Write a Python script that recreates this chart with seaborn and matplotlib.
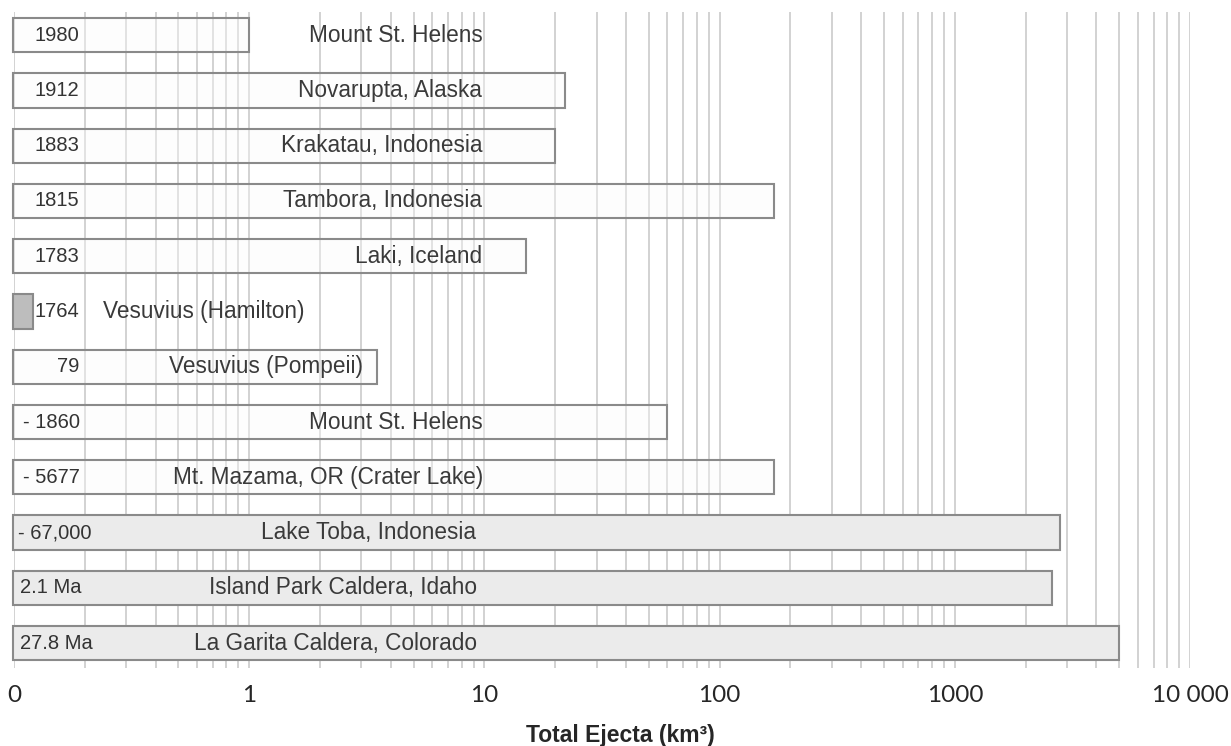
import matplotlib
matplotlib.use("Agg")
import matplotlib.pyplot as plt
import seaborn as sns
import pandas as pd
from matplotlib.ticker import LogLocator, NullFormatter

# Data
years = ["1980", "1912", "1883", "1815", "1783", "1764", "79",
         "- 1860", "- 5677", "- 67,000", "2.1 Ma", "27.8 Ma"]
volcanoes = ["Mount St. Helens", "Novarupta, Alaska", "Krakatau, Indonesia",
             "Tambora, Indonesia", "Laki, Iceland", "Vesuvius (Hamilton)",
             "Vesuvius (Pompeii)", "Mount St. Helens", "Mt. Mazama, OR (Crater Lake)",
             "Lake Toba, Indonesia", "Island Park Caldera, Idaho",
             "La Garita Caldera, Colorado"]
ejecta = [1, 22, 20, 170, 15, 0.12, 3.5, 60, 170, 2800, 2600, 5000]
tick_values = [0.1, 1, 10, 100, 1000, 10000]
tick_labels = ["0", "1", "10", "100", "1000", "10 000"]

df = pd.DataFrame({"year": years, "volcano": volcanoes, "ejecta": ejecta})

# Styling / layout
bar_fills = [(0.98, 0.98, 0.98, 0.4)] * 5 + ["#bdbdbd"] + [(0.98, 0.98, 0.98, 0.4)] * 3 + ["#ebebeb"] * 3
bar_left = 0.099
year_x = [0.19] * 9 + [0.104, 0.106, 0.106]
year_ha = ["right"] * 9 + ["left"] * 3
name_x = [9.8] * 5 + [0.24, 3.06, 9.8, 9.9, 9.25, 9.3, 9.3]
name_ha = ["right"] * 5 + ["left"] + ["right"] * 6

sns.set_style("white")
plt.rcParams["font.family"] = ["Liberation Sans", "DejaVu Sans"]

fig = plt.figure(figsize=(12.31, 7.46), dpi=100)
ax = fig.add_axes([0.0114, 0.1046, 0.9553, 0.8794])

sns.barplot(data=df, x="ejecta", y="year", orient="h", log_scale=True,
            width=0.62, color="white", edgecolor="#8a8a8a", linewidth=1.5,
            errorbar=None, ax=ax)
# bars start at 0 on a log axis -> start them at the left edge instead
for patch, fc in zip(ax.patches, bar_fills):
    right = patch.get_x() + patch.get_width()
    patch.set_x(bar_left)
    patch.set_width(right - bar_left)
    patch.set_facecolor(fc)
    patch.set_clip_on(False)

ax.set_xlim(0.1, 10000)
ax.set_ylim(11.45, -0.42)
ax.set_xticks(tick_values, tick_labels)
ax.xaxis.set_minor_locator(LogLocator(base=10, subs=range(2, 10)))
ax.xaxis.set_minor_formatter(NullFormatter())
ax.grid(True, which="both", axis="x", color="#c6c6c6", lw=1.1)
ax.grid(False, axis="y")
ax.set_axisbelow(True)
ax.tick_params(axis="x", which="both", length=0, pad=12, labelsize=17.5)
for lab in ax.get_xticklabels():
    lab.set_fontfamily("Lato")
ax.set_yticks([])
ax.set_xlabel("")
ax.set_ylabel("")
sns.despine(ax=ax, left=True, bottom=True)

for i in range(len(years)):
    ax.text(year_x[i], i, years[i], ha=year_ha[i], va="center",
            fontsize=14.5, color="#333333")
    ax.text(name_x[i], i, volcanoes[i], ha=name_ha[i], va="center",
            fontsize=16.3, color="#3a3a3a")

fig.text(0.504, 0.0147, "Total Ejecta (km³)", ha="center", va="center",
         fontsize=16.5, fontweight="bold")

fig.savefig("out.png", dpi=100)
